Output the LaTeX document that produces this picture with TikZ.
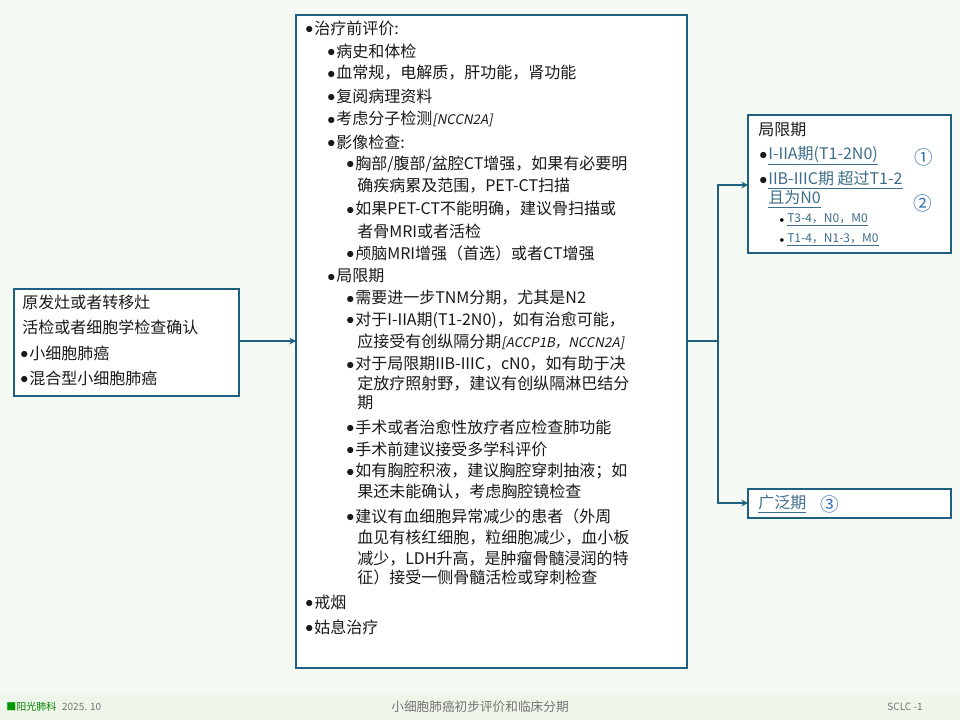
\documentclass[tikz,border=0pt]{standalone}
\usepackage{fontspec}
\setmainfont{Noto Sans CJK SC}
\newfontfamily\slfont[FakeSlant=0.2]{Noto Sans CJK SC}
\usetikzlibrary{arrows.meta, positioning}
\definecolor{boxline}{HTML}{1F5F7F}
\definecolor{linkc}{HTML}{3D6E8A}
\definecolor{numc}{HTML}{2F6DB0}
\definecolor{pagebg}{HTML}{F5F9F3}
\definecolor{footbg}{HTML}{EEF6EA}
\tikzset{
  bx/.style={draw=boxline, line width=1.3pt, fill=white},
  ln/.style={anchor=west, inner sep=0pt, font=\fontsize{12}{14}\selectfont, text=black!90},
  lk/.style={ln, text=linkc},
  sm/.style={anchor=west, inner sep=0pt, font=\fontsize{9}{10}\selectfont, text=linkc},
  num/.style={anchor=west, inner sep=0pt, font=\fontsize{14}{16}\selectfont, text=numc},
  ft/.style={inner sep=0pt, font=\fontsize{7.5}{8}\selectfont, text=black!55},
  flow/.style={draw=boxline, line width=1.3pt, -{Stealth[length=5pt,width=5pt]}}
}
\newcommand{\bul}{\makebox[6.8pt][l]{\raisebox{0.3pt}{$\bullet$}}}
\newcommand{\sbul}{\makebox[6pt][l]{\textcolor{black}{$\scriptstyle\bullet$}}}
\begin{document}
\begin{tikzpicture}[x=0.75pt, y=-0.75pt]
  \fill[pagebg] (0,0) rectangle (960,720);
  \fill[footbg] (0,695) rectangle (960,720);
  \useasboundingbox (0,0) rectangle (960,720);

  % boxes
  \draw[bx] (14,289) rectangle (239,396);
  \draw[bx] (296,15) rectangle (687,668);
  \draw[bx] (748,115) rectangle (951,253);
  \draw[bx] (748,489) rectangle (951,518);
  \coordinate (lout) at (239,341);
  \coordinate (min) at (296,341);
  \coordinate (mout) at (687,341);
  \coordinate (split) at (718,341);
  \coordinate (rin1) at (748,185);
  \coordinate (rin2) at (748,503);

  % left box
  \node[ln] (l1) at (22,302) {原发灶或者转移灶};
  \node[ln] (l2) at (22,327) {活检或者细胞学检查确认};
  \node[ln] (l3) at (20,353) {\bul 小细胞肺癌};
  \node[ln] (l4) at (20,378) {\bul 混合型小细胞肺癌};

  % middle box
  \node[ln] (m1) at (305,28) {\bul 治疗前评价:};
  \node[ln] (m2) at (327,51) {\bul 病史和体检};
  \node[ln] (m3) at (327,73) {\bul 血常规，电解质，肝功能，肾功能};
  \node[ln] (m4) at (327,96) {\bul 复阅病理资料};
  \node[ln] (m5) at (327,119) {\bul 考虑分子检测{\slfont\fontsize{10}{12}\selectfont[NCCN2A]}};
  \node[ln] (m6) at (327,142) {\bul 影像检查:};
  \node[ln] (m7) at (346,164) {\bul 胸部/腹部/盆腔CT增强，如果有必要明};
  \node[ln] (m8) at (357,186) {确疾病累及范围，PET-CT扫描};
  \node[ln] (m9) at (346,209) {\bul 如果PET-CT不能明确，建议骨扫描或};
  \node[ln] (m10) at (357,231) {者骨MRI或者活检};
  \node[ln] (m11) at (346,253) {\bul 颅脑MRI增强（首选）或者CT增强};
  \node[ln] (m12) at (327,276) {\bul 局限期};
  \node[ln] (m13) at (346,298) {\bul 需要进一步TNM分期，尤其是N2};
  \node[ln] (m14) at (346,320) {\bul 对于I-IIA期(T1-2N0)，如有治愈可能，};
  \node[ln] (m15) at (357,342) {应接受有创纵隔分期{\slfont\fontsize{10}{12}\selectfont[ACCP1B，NCCN2A]}};
  \node[ln] (m16) at (346,364) {\bul 对于局限期IIB-IIIC，cN0，如有助于决};
  \node[ln] (m17) at (357,384) {定放疗照射野，建议有创纵隔淋巴结分};
  \node[ln] (m18) at (357,403) {期};
  \node[ln] (m19) at (346,427) {\bul 手术或者治愈性放疗者应检查肺功能};
  \node[ln] (m20) at (346,449) {\bul 手术前建议接受多学科评价};
  \node[ln] (m21) at (346,471) {\bul 如有胸腔积液，建议胸腔穿刺抽液；如};
  \node[ln] (m22) at (357,492) {果还未能确认，考虑胸腔镜检查};
  \node[ln] (m23) at (346,516) {\bul 建议有血细胞异常减少的患者（外周};
  \node[ln] (m24) at (357,538) {血见有核红细胞，粒细胞减少，血小板};
  \node[ln] (m25) at (357,559) {减少，LDH升高，是肿瘤骨髓浸润的特};
  \node[ln] (m26) at (357,577) {征）接受一侧骨髓活检或穿刺检查};
  \node[ln] (m27) at (305,602) {\bul 戒烟};
  \node[ln] (m28) at (305,627) {\bul 姑息治疗};

  % right boxes
  \node[ln] (r1) at (758,130) {局限期};
  \node[ln] (r2) at (759,156) {\bul \textcolor{linkc}{\underline{I-IIA期(T1-2N0)}}};
  \node[num] (n1) at (914,157) {①};
  \node[ln] (r3) at (759,180) {\bul \textcolor{linkc}{\underline{IIB-IIIC期 超过T1-2}}};
  \node[lk] (r4) at (768,199) {\underline{且为N0}};
  \node[num] (n2) at (913,203) {②};
  \node[sm] (r5) at (779,220) {\sbul\underline{T3-4，N0，M0}};
  \node[sm] (r6) at (779,240) {\sbul\underline{T1-4，N1-3，M0}};
  \node[lk] (r7) at (758,504) {\underline{广泛期}};
  \node[num, right=10pt of r7] (n3) {③};

  % connectors
  \draw[flow] (lout) -- (min);
  \draw[boxline, line width=1.3pt] (mout) -- (split);
  \draw[flow] (split) |- (rin1);
  \draw[flow] (split) |- (rin2);

  % footer
  \node[ft, text=green!50!black, anchor=west] (logo) at (6,707) {\textcolor{green!60!black}{■}阳光肺科};
  \node[ft, right=4pt of logo] (date) {2025. 10};
  \node[ft, font=\fontsize{9.5}{10}\selectfont] (title) at (480,707) {小细胞肺癌初步评价和临床分期};
  \node[ft] (page) at (905,707) {SCLC -1};
\end{tikzpicture}
\end{document}
